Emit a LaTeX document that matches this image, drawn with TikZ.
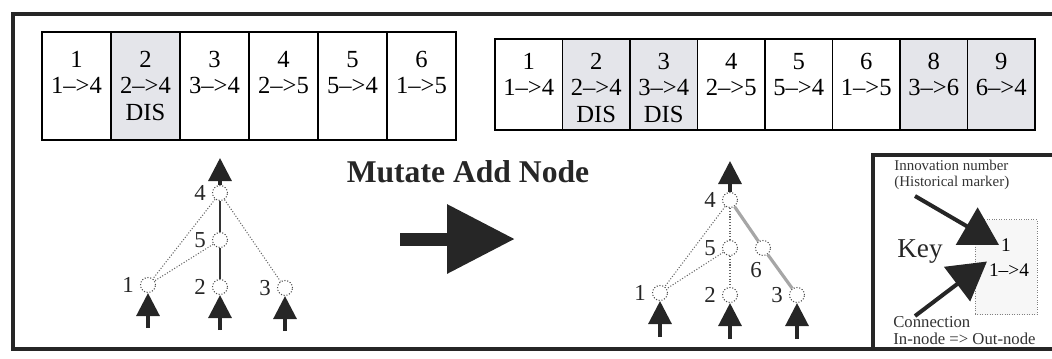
\documentclass[tikz,border=0pt]{standalone}
\usepackage{fontspec}
\setmainfont{Liberation Serif}
\usepackage{tikz}
\usetikzlibrary{positioning,arrows.meta}
\definecolor{cellgray}{HTML}{E4E5EA}
\tikzset{
    frame/.style={
        draw=black!85, line width=2pt
    },
    genecell/.style={
        rectangle, draw, line width=0.8pt, inner sep=0pt
    },
    genetext/.style={
        align=center, inner sep=0pt,
        font=\fontsize{14}{15}\selectfont
    },
    neuron/.style={
        circle, draw=black!70, densely dotted, fill=white,
        minimum size=3mm, inner sep=0pt, line width=0.6pt
    },
    link/.style={
        draw=black!60, densely dotted, line width=0.6pt
    },
    solidlink/.style={
        draw=black!80, line width=0.6pt
    },
    newlink/.style={
        draw=black!35, line width=1.8pt
    },
    io/.style={
        -{Triangle[width=4.6mm,length=4.6mm]}, line width=1.8pt, draw=black!85, fill=black!85
    },
    bigarrow/.style={
        -{Triangle[width=13.2mm,length=13.6mm]}, line width=2.6mm, draw=black!85, fill=black!85
    },
    keyarrow/.style={
        -{Triangle[width=8.5mm,length=7.5mm]}, line width=0.8mm, draw=black!85, fill=black!85
    },
    keycell/.style={
        rectangle, draw=black!50, densely dotted, fill=black!3,
        minimum width=12.4mm, minimum height=19mm, inner sep=0pt
    },
    keynote/.style={
        align=left, inner sep=0pt, text=black!80,
        font=\fontsize{8.5}{9}\selectfont
    }
}

\begin{document}
\begin{tikzpicture}[x=0.2mm, y=-0.2mm,
    every label/.style={font=\fontsize{13}{13}\selectfont, text=black!85}]
    \useasboundingbox (0,0) rectangle (1052,358);
    % Outer frame, open on the right
    \draw[frame] (1052,14) -| (13,349) -- (1052,349);

    % Genome before the mutation
    \foreach \i/\conn/\fc/\dis in {1/1-->4/white/{}, 2/2-->4/cellgray/DIS,
            3/3-->4/white/{}, 4/2-->5/white/{}, 5/5-->4/white/{}, 6/1-->5/white/{}} {
        \node[genecell, fill=\fc, minimum width=13.8mm, minimum height=21.6mm]
            (old\i) at ({7.5+69*\i}, 86) {};
        \node[genetext, below=3.9mm of old\i.north] (old\i-t) {\i\\\conn\\\dis};
    }

    % Genome after the mutation
    \foreach \j/\num/\conn/\fc/\dis in {1/1/1-->4/white/{}, 2/2/2-->4/cellgray/DIS,
            3/3/3-->4/cellgray/DIS, 4/4/2-->5/white/{}, 5/5/5-->4/white/{},
            6/6/1-->5/white/{}, 7/8/3-->6/cellgray/{}, 8/9/6-->4/cellgray/{}} {
        \node[genecell, fill=\fc, minimum width=13.5mm, minimum height=18.2mm]
            (new\j) at ({461.25+67.5*\j}, 84.5) {};
        \node[genetext, below=2.9mm of new\j.north] (new\j-t) {\num\\\conn\\\dis};
    }

    % Network before
    \node[neuron, label=left:4] (a4) at (220,193) {};
    \node[neuron, label=left:5] (a5) at (220,240) {};
    \node[neuron, label=left:1] (a1) at (148,285) {};
    \node[neuron, label=left:2] (a2) at (220,287) {};
    \node[neuron, label=left:3] (a3) at (285,288) {};
    \draw[link] (a4) -- (a1);
    \draw[link] (a5) -- (a1);
    \draw[link] (a4) -- (a3);
    \draw[solidlink] (a4) -- (a5);
    \draw[solidlink] (a5) -- (a2);
    \coordinate (a4-out) at (220,158);
    \draw[io] (a4) -- (a4-out);
    \foreach \k in {1,2,3} {
        \coordinate[below=7mm of a\k] (a\k-in);
        \draw[io] (a\k-in) -- (a\k);
    }

    % Mutation
    \node[font=\bfseries\fontsize{18}{18}\selectfont, text=black!85] (mutate) at (468,172) {Mutate Add Node};
    \coordinate (mut-from) at (400,239);
    \coordinate (mut-to) at (515,239);
    \draw[bigarrow] (mut-from) -- (mut-to);

    % Network after
    \node[neuron, label=left:4] (b4) at (730,200) {};
    \node[neuron, label=left:5] (b5) at (730,248) {};
    \node[neuron, label={[xshift=-1.4mm]below:6}] (b6) at (763,248) {};
    \node[neuron, label=left:1] (b1) at (660,293) {};
    \node[neuron, label=left:2] (b2) at (730,295) {};
    \node[neuron, label=left:3] (b3) at (797,295) {};
    \draw[link] (b4) -- (b1);
    \draw[link] (b5) -- (b1);
    \draw[link] (b4) -- (b5);
    \draw[link] (b5) -- (b2);
    \draw[newlink] (b4) -- (b6);
    \draw[newlink] (b6) -- (b3);
    \coordinate (b4-out) at (730,161);
    \draw[io] (b4) -- (b4-out);
    \foreach \k in {1,2,3} {
        \coordinate[below=7.2mm of b\k] (b\k-in);
        \draw[io] (b\k-in) -- (b\k);
    }

    % Key
    \draw[frame] (1052,155) -| (873,349);
    \node[keycell] (keybox) at (1006,267) {};
    \node[font=\fontsize{11}{11}\selectfont, inner sep=1pt] (keynum) at (1006,245) {1};
    \node[font=\fontsize{11}{11}\selectfont, inner sep=1pt] (keyconn) at (1009,270) {1-->4};
    \node[font=\fontsize{15.5}{15.5}\selectfont, text=black!85] (keyword) at (920,252) {Key};
    \node[keynote, anchor=north west] (innov) at (894,160) {Innovation number\\(Historical marker)};
    \node[keynote, anchor=north west, font=\fontsize{9.5}{9.7}\selectfont] (connote) at (893,316)
        {Connection\\In-node => Out-node};
    \coordinate (innov-from) at (915,196);
    \coordinate (conn-from) at (915,316);
    \draw[keyarrow] (innov-from) -- (keynum.west);
    \draw[keyarrow] (conn-from) -- (keyconn.north west);
\end{tikzpicture}
\end{document}
